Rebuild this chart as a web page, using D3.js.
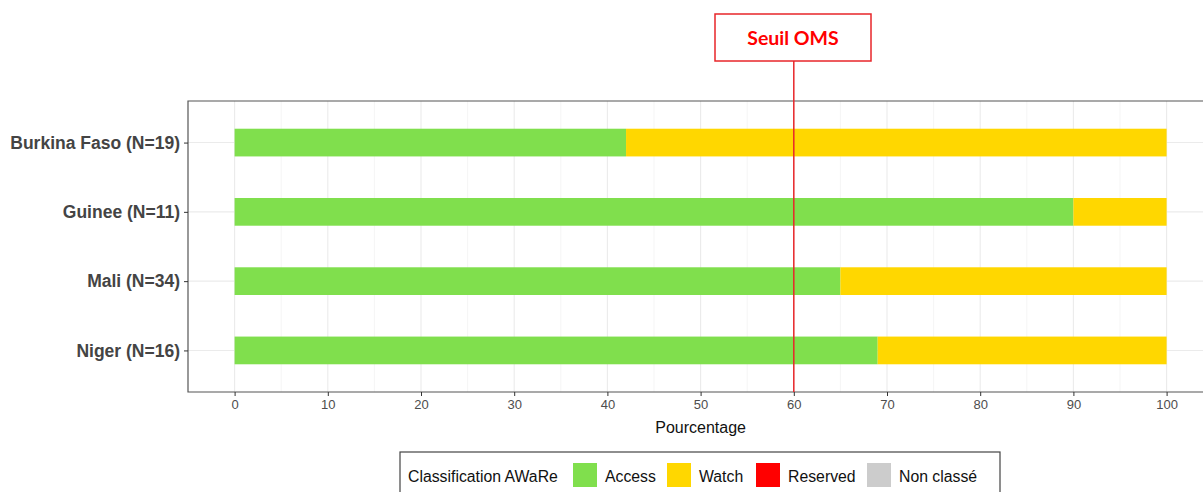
<!DOCTYPE html>
<html>
<head>
<meta charset="utf-8">
<script src="https://cdn.jsdelivr.net/npm/d3@7"></script>
<style>
  body { margin: 0; background: #fff; }
  svg { display: block; }
</style>
</head>
<body>
<svg id="chart"></svg>
<script>
// data
var countries = ["Burkina Faso (N=19)", "Guinee (N=11)", "Mali (N=34)", "Niger (N=16)"];
var access = [42, 90, 65, 69];
var watch = [58, 10, 35, 31];
var reserved = [0, 0, 0, 0];
var nonClasse = [0, 0, 0, 0];
var classes = ["Access", "Watch", "Reserved", "Non classé"];
var classColors = ["#80df4d", "#ffd700", "#ff0000", "#cccccc"];
var xTicks = [0, 10, 20, 30, 40, 50, 60, 70, 80, 90, 100];
var seuil = 60;

var width = 1203, height = 492;
var panel = { left: 188, top: 101, bottom: 392 };

var svg = d3.select("#chart").attr("width", width).attr("height", height);

// ggplot-like expansion: 5% each side
var x = d3.scaleLinear().domain([-5, 105]).range([panel.left, panel.left + (1167 - 235) * 1.1]);
var y = d3.scalePoint().domain(countries).range([panel.top, panel.bottom]).padding(0.6);
var barH = y.step() * 0.4;

// grid
var grid = svg.append("g");
grid.selectAll("line.minor")
  .data(d3.range(5, 101, 10))
  .enter().append("line")
  .attr("x1", function(d) { return x(d); }).attr("x2", function(d) { return x(d); })
  .attr("y1", panel.top).attr("y2", panel.bottom)
  .attr("stroke", "#f2f2f2").attr("stroke-width", 0.8);
grid.selectAll("line.major")
  .data(xTicks)
  .enter().append("line")
  .attr("x1", function(d) { return x(d); }).attr("x2", function(d) { return x(d); })
  .attr("y1", panel.top).attr("y2", panel.bottom)
  .attr("stroke", "#ebebeb").attr("stroke-width", 1.1);
grid.selectAll("line.h")
  .data(countries)
  .enter().append("line")
  .attr("x1", panel.left).attr("x2", width)
  .attr("y1", function(d) { return y(d); }).attr("y2", function(d) { return y(d); })
  .attr("stroke", "#ebebeb").attr("stroke-width", 1.1);

// stacked bars
var rows = countries.map(function(c, i) {
  return { country: c, Access: access[i], Watch: watch[i], Reserved: reserved[i], "Non classé": nonClasse[i] };
});
var stack = d3.stack().keys(classes)(rows);
var color = d3.scaleOrdinal().domain(classes).range(classColors);

svg.append("g").selectAll("g")
  .data(stack)
  .enter().append("g")
  .attr("fill", function(d) { return color(d.key); })
  .selectAll("rect")
  .data(function(d) { return d; })
  .enter().append("rect")
  .attr("x", function(d) { return x(d[0]); })
  .attr("width", function(d) { return x(d[1]) - x(d[0]); })
  .attr("y", function(d) { return y(d.data.country) - barH / 2; })
  .attr("height", barH);

// panel border
svg.append("path")
  .attr("d", "M" + width + "," + panel.top + "H" + panel.left + "V" + panel.bottom + "H" + width)
  .attr("fill", "none").attr("stroke", "#555").attr("stroke-width", 1.2);

// x axis
var xAxis = svg.append("g")
  .attr("transform", "translate(0," + panel.bottom + ")")
  .call(d3.axisBottom(x).tickValues(xTicks).tickSize(4).tickPadding(4));
xAxis.select(".domain").remove();
xAxis.selectAll("line").attr("stroke", "#333");
xAxis.selectAll("text")
  .attr("fill", "#4d4d4d")
  .style("font-family", "'Liberation Sans Narrow', 'Liberation Sans', Arial, sans-serif")
  .style("font-size", "13px");

svg.append("text")
  .attr("x", x(50)).attr("y", 433)
  .attr("text-anchor", "middle")
  .style("font-family", "'Liberation Sans', Arial, sans-serif")
  .style("font-size", "16px")
  .attr("fill", "#111")
  .text("Pourcentage");

// y axis
var yAxis = svg.append("g")
  .attr("transform", "translate(" + panel.left + ",0)")
  .call(d3.axisLeft(y).tickSize(4).tickPadding(4));
yAxis.select(".domain").remove();
yAxis.selectAll("line").attr("stroke", "#333");
yAxis.selectAll("text")
  .attr("fill", "#444")
  .style("font-family", "'Liberation Sans', Arial, sans-serif")
  .style("font-weight", "bold")
  .style("font-size", "17.5px");

// threshold line and label
svg.append("line")
  .attr("x1", x(seuil)).attr("x2", x(seuil))
  .attr("y1", 61).attr("y2", panel.bottom)
  .attr("stroke", "#e8262a").attr("stroke-width", 1.5);
svg.append("rect")
  .attr("x", 715).attr("y", 14).attr("width", 156).attr("height", 47)
  .attr("fill", "#fff").attr("stroke", "#e8262a").attr("stroke-width", 1.5);
svg.append("text")
  .attr("x", 793).attr("y", 45)
  .attr("text-anchor", "middle")
  .style("font-family", "Lato, 'Open Sans', sans-serif")
  .style("font-weight", "bold")
  .style("font-size", "19.5px")
  .attr("fill", "#ff0000")
  .text("Seuil OMS");

// legend
var legend = svg.append("g");
legend.append("rect")
  .attr("x", 400).attr("y", 452).attr("width", 600).attr("height", 60)
  .attr("fill", "#fff").attr("stroke", "#444").attr("stroke-width", 1.2);
legend.append("text")
  .attr("x", 408).attr("y", 482)
  .style("font-family", "'Liberation Sans', Arial, sans-serif")
  .style("font-size", "15.8px")
  .attr("fill", "#111")
  .text("Classification AWaRe");
var keyX = [573, 667, 756, 867];
var item = legend.selectAll("g.item")
  .data(classes)
  .enter().append("g")
  .attr("transform", function(d, i) { return "translate(" + keyX[i] + ",463)"; });
item.append("rect")
  .attr("width", 24).attr("height", 24)
  .attr("fill", function(d) { return color(d); });
item.append("text")
  .attr("x", 32).attr("y", 19)
  .style("font-family", "'Liberation Sans', Arial, sans-serif")
  .style("font-size", "15.8px")
  .attr("fill", "#111")
  .text(function(d) { return d; });
</script>
</body>
</html>
